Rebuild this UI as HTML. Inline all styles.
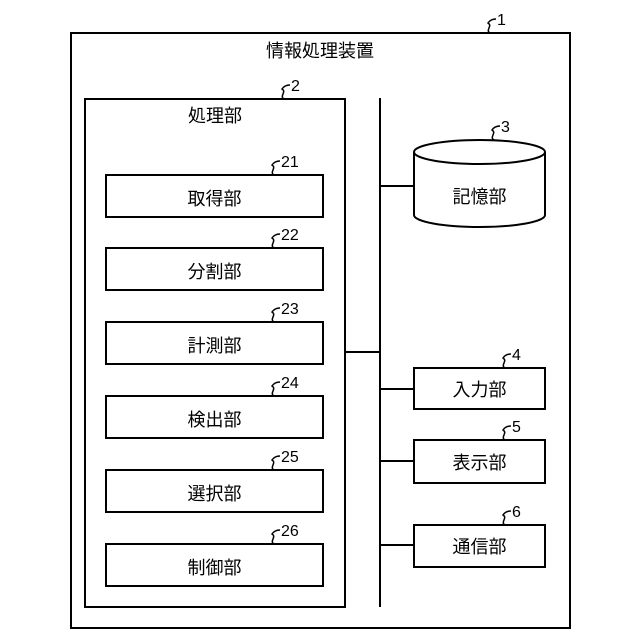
<!DOCTYPE html>
<html><head><meta charset="utf-8"><style>
body{margin:0;background:#fff}
svg{display:block}
text{font-family:"Liberation Sans","Noto Sans CJK JP",sans-serif;fill:#000}
</style></head><body>
<svg width="640" height="640" viewBox="0 0 640 640" xmlns="http://www.w3.org/2000/svg">
<g fill="none" stroke="#000" stroke-width="2">
<rect x="71" y="33" width="499" height="595"/>
<rect x="85" y="99" width="260" height="508"/>
<line x1="380" y1="98" x2="380" y2="607"/>
<line x1="345" y1="352" x2="380" y2="352"/>
<line x1="380" y1="186" x2="414" y2="186"/>
<line x1="380" y1="389" x2="414" y2="389"/>
<line x1="380" y1="461" x2="414" y2="461"/>
<line x1="380" y1="545" x2="414" y2="545"/>
<rect x="106" y="175" width="217" height="42"/>
<rect x="106" y="248" width="217" height="42"/>
<rect x="106" y="322" width="217" height="42"/>
<rect x="106" y="396" width="217" height="42"/>
<rect x="106" y="470" width="217" height="42"/>
<rect x="106" y="544" width="217" height="42"/>
<rect x="414" y="368" width="131" height="41"/>
<rect x="414" y="440" width="131" height="43"/>
<rect x="414" y="525" width="131" height="42"/>
<path d="M414 152 V215 A65.5 12 0 0 0 545 215 V152"/>
<ellipse cx="479.5" cy="152" rx="65.5" ry="12"/>
</g>
<g fill="none" stroke="#000" stroke-width="1.5">
<path d="M490 33 c-5 -3 3 -7 -2 -10 c2 -3 5 -4 8 -4"/>
<path d="M284 99 c-5 -3 3 -7 -2 -10 c2 -3 5 -4 8 -4"/>
<path d="M494 140 c-5 -3 3 -7 -2 -10 c2 -3 5 -4 8 -4"/>
<path d="M274 175 c-5 -3 3 -7 -2 -10 c2 -3 5 -4 8 -4"/>
<path d="M274 248 c-5 -3 3 -7 -2 -10 c2 -3 5 -4 8 -4"/>
<path d="M274 322 c-5 -3 3 -7 -2 -10 c2 -3 5 -4 8 -4"/>
<path d="M274 396 c-5 -3 3 -7 -2 -10 c2 -3 5 -4 8 -4"/>
<path d="M274 470 c-5 -3 3 -7 -2 -10 c2 -3 5 -4 8 -4"/>
<path d="M274 544 c-5 -3 3 -7 -2 -10 c2 -3 5 -4 8 -4"/>
<path d="M505 368 c-5 -3 3 -7 -2 -10 c2 -3 5 -4 8 -4"/>
<path d="M505 440 c-5 -3 3 -7 -2 -10 c2 -3 5 -4 8 -4"/>
<path d="M505 525 c-5 -3 3 -7 -2 -10 c2 -3 5 -4 8 -4"/>
</g>
<g font-size="16">
<text x="497" y="25">1</text>
<text x="291" y="91">2</text>
<text x="501" y="132">3</text>
<text x="281" y="167">21</text>
<text x="281" y="240">22</text>
<text x="281" y="314">23</text>
<text x="281" y="388">24</text>
<text x="281" y="462">25</text>
<text x="281" y="536">26</text>
<text x="512" y="360">4</text>
<text x="512" y="432">5</text>
<text x="512" y="517">6</text>
</g>
<g font-size="18" text-anchor="middle">
<text x="320" y="57">情報処理装置</text>
<text x="215" y="122">処理部</text>
<text x="214.5" y="205">取得部</text>
<text x="214.5" y="278">分割部</text>
<text x="214.5" y="352">計測部</text>
<text x="214.5" y="426">検出部</text>
<text x="214.5" y="500">選択部</text>
<text x="214.5" y="574">制御部</text>
<text x="479.5" y="203">記憶部</text>
<text x="479.5" y="396">入力部</text>
<text x="479.5" y="469">表示部</text>
<text x="479.5" y="553">通信部</text>
</g>
</svg>
</body></html>
